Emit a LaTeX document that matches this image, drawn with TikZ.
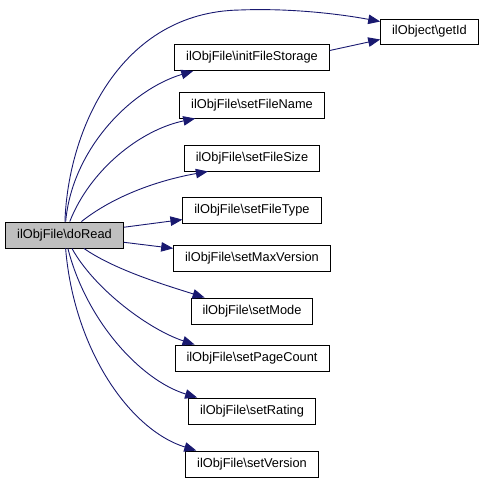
\documentclass[tikz,border=0pt]{standalone}
\usepackage{fontspec}
\setmainfont{Liberation Sans}
\usetikzlibrary{arrows.meta}
\definecolor{edgeblue}{RGB}{25,25,112}
\definecolor{rootgrey}{RGB}{191,191,191}
\begin{document}
\begin{tikzpicture}[x=1pt,y=-1pt,
    call/.style={draw=edgeblue,line width=0.9pt,-{Triangle[length=12pt,width=9.5pt]}}]
\useasboundingbox (0,0) rectangle (484,481);
\begin{scope}[every node/.style={draw,line width=0.9pt,fill=white,minimum height=26pt,inner xsep=11.5pt,font=\fontsize{12.8}{15}\selectfont}]
    \node[fill=rootgrey] (doRead) at (64.5,235) {ilObjFile\textbackslash doRead};
    \node[minimum height=25pt] (getId) at (429.5,31.5) {ilObject\textbackslash getId};
    \node (initFileStorage) at (252,57.5) {ilObjFile\textbackslash initFileStorage};
    \node (setFileName) at (252,105) {ilObjFile\textbackslash setFileName};
    \node (setFileSize) at (252,158) {ilObjFile\textbackslash setFileSize};
    \node (setFileType) at (252,210.5) {ilObjFile\textbackslash setFileType};
    \node (setMaxVersion) at (252,258) {ilObjFile\textbackslash setMaxVersion};
    \node (setMode) at (252,311) {ilObjFile\textbackslash setMode};
    \node (setPageCount) at (252,358) {ilObjFile\textbackslash setPageCount};
    \node (setRating) at (252,411) {ilObjFile\textbackslash setRating};
    \node (setVersion) at (252,464) {ilObjFile\textbackslash setVersion};
\end{scope}
\draw[call] (doRead) .. controls (68,130) and (120,12) .. (240,10) .. controls (290,8) and (340,14) .. ([yshift=-3pt]getId.north west);
\draw[call] (doRead) .. controls (72,150) and (130,90) .. ([xshift=19pt]initFileStorage.south west);
\draw[call] ([yshift=7pt]initFileStorage.east) -- ([yshift=-8pt]getId.west);
\draw[call] (doRead) .. controls (90,170) and (140,130) .. ([xshift=16pt]setFileName.south west);
\draw[call] (doRead) .. controls (115,195) and (160,180) .. ([xshift=24pt]setFileSize.south west);
\draw[call] (doRead) -- (setFileType);
\draw[call] (doRead) -- (setMaxVersion);
\draw[call] (doRead) .. controls (115,270) and (165,285) .. ([xshift=14pt]setMode.north west);
\draw[call] (doRead) .. controls (95,290) and (150,330) .. ([xshift=20pt]setPageCount.north west);
\draw[call] (doRead) .. controls (86,320) and (140,380) .. ([xshift=9pt]setRating.north west);
\draw[call] (doRead) .. controls (74,350) and (130,430) .. ([xshift=11pt]setVersion.north west);
\end{tikzpicture}
\end{document}
